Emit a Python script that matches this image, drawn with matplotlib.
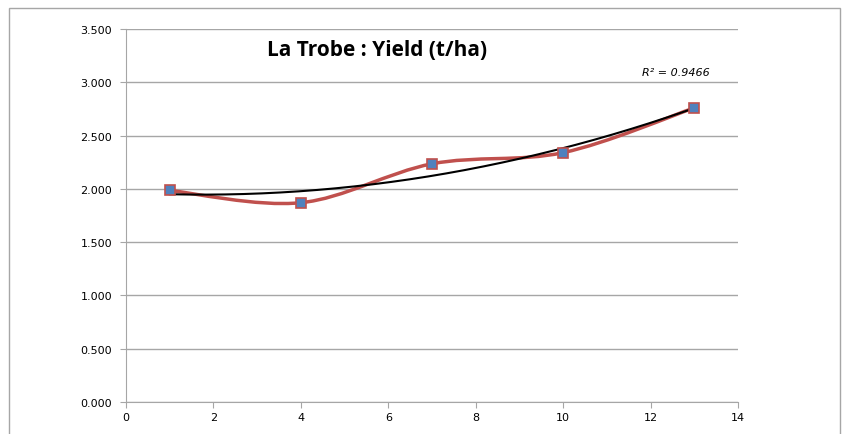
import numpy as np
import matplotlib.pyplot as plt
from matplotlib.path import Path
from matplotlib.patches import PathPatch, Rectangle
from matplotlib.ticker import FuncFormatter

# datos
x_vals = [1, 4, 7, 10, 13]
yield_vals = [1.985, 1.870, 2.235, 2.340, 2.760]
titulo = 'La Trobe : Yield (t/ha)'
r2_txt = 'R² = 0.9466'

rojo = '#C0504D'
azul = '#4F81BD'
gris = '#A6A6A6'

fig = plt.figure(figsize=(8.42, 4.35), dpi=100)
ax = fig.add_axes([126/842, 1 - 403/435, (738 - 126)/842, (403 - 30)/435])

# marco exterior del grafico
fig.patches.append(Rectangle((9/842, -0.05), (840 - 9)/842, 1 - 9/435 + 0.05,
                             transform=fig.transFigure, fill=False, ec=gris, lw=1.0))

# linea suavizada tipo Excel (bezier)
xs = np.array(x_vals, float)
ys = np.array(yield_vals, float)
verts = [(xs[0], ys[0])]
codes = [Path.MOVETO]
n = len(xs)
for i in range(n - 1):
    p0 = np.array([xs[max(i - 1, 0)], ys[max(i - 1, 0)]])
    p1 = np.array([xs[i], ys[i]])
    p2 = np.array([xs[i + 1], ys[i + 1]])
    p3 = np.array([xs[min(i + 2, n - 1)], ys[min(i + 2, n - 1)]])
    c1 = p1 + (p2 - p0) / 6
    c2 = p2 - (p3 - p1) / 6
    verts += [tuple(c1), tuple(c2), tuple(p2)]
    codes += [Path.CURVE4] * 3
ax.add_patch(PathPatch(Path(verts, codes), fill=False, ec=rojo, lw=2.5, zorder=3))

# tendencia polinomica de orden 2
coef = np.polyfit(xs, ys, 2)
xt = np.linspace(xs[0], xs[-1], 200)
ax.plot(xt, np.polyval(coef, xt), color='black', lw=1.5, zorder=4)

ax.plot(xs, ys, ls='none', marker='s', ms=7, mfc=azul, mec=rojo, mew=1.2, zorder=5)

ax.set_xlim(0, 14)
ax.set_ylim(0, 3.5)
ax.set_xticks(range(0, 15, 2))
ax.set_yticks(np.arange(0, 3.51, 0.5))
ax.yaxis.set_major_formatter(FuncFormatter(lambda v, p: f'{v:.3f}'))
ax.grid(axis='y', color=gris, lw=1.0)
ax.set_axisbelow(True)
for s in ['top', 'right']:
    ax.spines[s].set_visible(False)
for s in ['left', 'bottom']:
    ax.spines[s].set_color(gris)
ax.tick_params(axis='both', colors=gris, length=4, labelsize=8, labelcolor='black')
ax.tick_params(axis='y', pad=6)

ax.text(377/842, 1 - 50/435, titulo, transform=fig.transFigure, ha='center', va='center',
        fontsize=15, fontweight='bold', family='Open Sans')
ax.text(676/842, 1 - 73/435, r2_txt, transform=fig.transFigure, ha='center', va='center',
        fontsize=8, style='italic')

fig.savefig('out.png', dpi=100)
